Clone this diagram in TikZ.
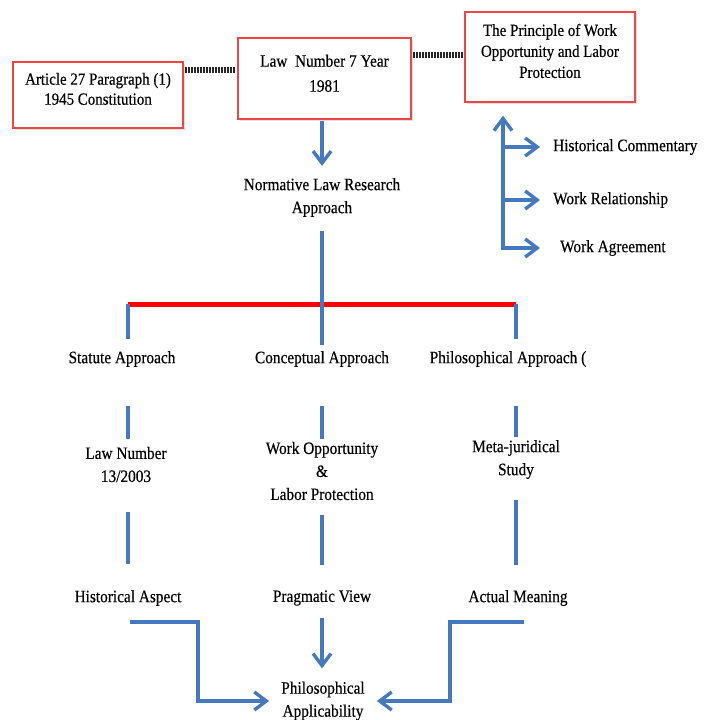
\documentclass[tikz,border=0pt]{standalone}
\usepackage{fontspec}
\setmainfont[FakeStretch=0.88,FakeBold=0.4]{Liberation Serif}
\usetikzlibrary{arrows.meta,calc,shadows}
\definecolor{bl}{RGB}{70,120,190}
\definecolor{bx}{RGB}{238,70,70}
\newcommand{\boxtxt}[1]{\raisebox{0pt}[0pt][0pt]{\begin{tabular}{@{}c@{}}#1\end{tabular}}}
\begin{document}
\begin{tikzpicture}[x=1pt,y=-1pt,
  font=\fontsize{17.4}{23}\selectfont,
  lbl/.style={inner sep=0pt,align=center},
  box/.style={draw=bx,line width=1.5pt,fill=white,inner sep=2pt,
    drop shadow={opacity=0.25,shadow xshift=1.5pt,shadow yshift=-1.5pt}},
  conn/.style={draw=bl,line width=3.4pt},
  arr/.style={conn,-{Straight Barb[length=12pt,width=18pt]}},
  dots/.style={line width=5.5pt,dash pattern=on 1.4pt off 1.6pt,black!85},
  redline/.style={draw=red,line width=5pt}]
\useasboundingbox (0,0) rectangle (709,720);

% boxes
\node[box,minimum width=170pt,minimum height=66pt,font=\fontsize{17}{20}\selectfont] (b1) at (98,95)
  {\boxtxt{Article 27 Paragraph (1)\\1945 Constitution}};
\node[box,minimum width=173pt,minimum height=81pt,font=\fontsize{17.4}{25}\selectfont] (b2) at (324.5,78.5)
  {\boxtxt{Law\ \ Number 7 Year\\1981}};
\node[box,minimum width=170pt,minimum height=90pt,font=\fontsize{17}{21}\selectfont] (b3) at (550,57)
  {\boxtxt{The Principle of Work\\Opportunity and Labor\\Protection}};

\coordinate (d1) at (0,70);
\coordinate (d2) at (0,55);
\draw[dots,shorten <=1.5pt,shorten >=1.5pt] (b1.east |- d1) -- (b2.west |- d1);
\draw[dots,shorten <=1.5pt,shorten >=1.5pt] (b2.east |- d2) -- (b3.west |- d2);

% labels
\node[lbl] (norm) at (322,197.5) {Normative Law Research\\Approach};

\node[lbl] (s1) at (122,359) {Statute Approach};
\node[lbl] (c1) at (322,359) {Conceptual Approach};
\node[lbl] (p1) at (508,359) {Philosophical Approach (};

\node[lbl] (s2) at (126,464.5) {Law Number\\13/2003};
\node[lbl] (c2) at (322,471) {Work Opportunity\\\&\\Labor Protection};
\node[lbl] (p2) at (516,459.5) {Meta-juridical\\Study};

\node[lbl] (s3) at (128,598) {Historical Aspect};
\node[lbl] (c3) at (322,598) {Pragmatic View};
\node[lbl] (p3) at (518,598) {Actual Meaning};

\node[lbl] (fin) at (323,701) {Philosophical\\Applicability};

\node[lbl,anchor=west] (hc) at (553,147) {Historical Commentary};
\node[lbl,anchor=west] (wr) at (553,200) {Work Relationship};
\node[lbl,anchor=west] (wa) at (560,248) {Work Agreement};

\coordinate (colL) at (128,0);
\coordinate (colC) at (322,0);
\coordinate (colR) at (516,0);
\coordinate (rl) at (128,304);
\coordinate (rr) at (516,304);
\coordinate (vx) at (503,0);
\coordinate (eL) at (198,0);
\coordinate (eR) at (450,0);

% top arrow
\draw[arr,shorten <=1pt,shorten >=12pt] (b2.south -| norm) -- (norm.north);

% red bar and drops
\draw[redline] (rl) -- (rr);
\draw[conn,shorten <=14pt,shorten >=6pt] (norm.south) -- (c1.north);
\draw[conn,shorten >=12pt] (rl) -- (s1.north -| rl);
\draw[conn,shorten >=12pt] (rr) -- (p1.north -| rr);

% second level segments
\draw[conn,shorten <=39pt,shorten >=8pt] (s1.south -| colL) -- (s2.north -| colL);
\draw[conn,shorten <=39pt,shorten >=3pt] (c1.south -| colC) -- (c2.north -| colC);
\draw[conn,shorten <=39pt,shorten >=3pt] (p1.south -| colR) -- (p2.north -| colR);

% third level segments
\draw[conn,shorten <=30pt,shorten >=26pt] (s2.south -| colL) -- (s3.north -| colL);
\draw[conn,shorten <=15pt,shorten >=25pt] (c2.south -| colC) -- (c3.north -| colC);
\draw[conn,shorten <=21pt,shorten >=25pt] (p2.south -| colR) -- (p3.north -| colR);

% bottom arrows
\coordinate (hs) at ($(s3.south -| colL)+(2,16)$);
\coordinate (as) at ($(p3.south -| colR)+(8,16)$);
\draw[arr,shorten >=12pt] (hs) -- (hs -| eL) -- (eL |- fin.west) -- (fin.west);
\draw[arr,shorten >=12pt] (as) -- (as -| eR) -- (eR |- fin.east) -- (fin.east);
\draw[arr,shorten <=12pt,shorten >=13pt] (c3.south) -- (fin.north -| c3.south);

% right side arrows
\draw[arr,shorten <=-1.7pt,shorten >=13pt] (wa.west -| vx) -- (b3.south -| vx);
\draw[arr,shorten >=13pt] (hc.west -| vx) -- (hc.west);
\draw[arr,shorten >=13pt] (wr.west -| vx) -- (wr.west);
\draw[arr,shorten >=20pt] (wa.west -| vx) -- (wa.west);
\end{tikzpicture}
\end{document}
